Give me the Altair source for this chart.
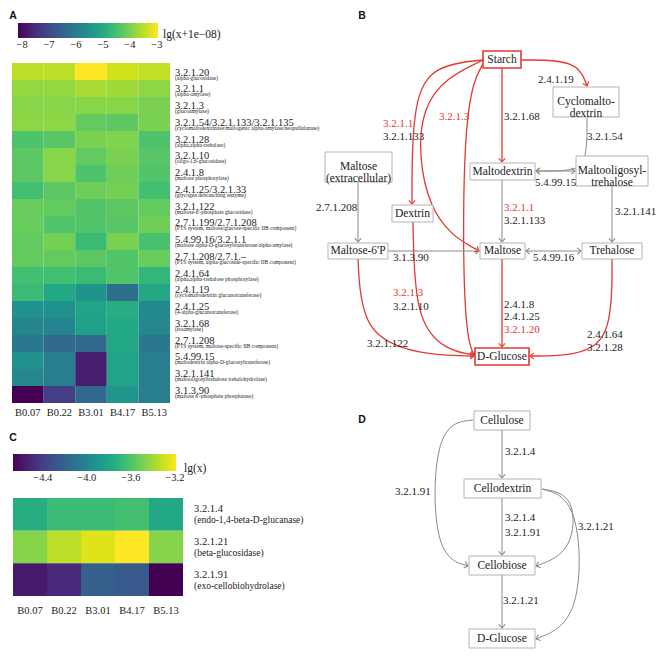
import altair as alt
import pandas as pd
import numpy as np

SERIF = "Liberation Serif, Times New Roman, Times, DejaVu Serif, serif"
SANS = "Liberation Sans, Arial, Helvetica, sans-serif"
RED = "#e5392f"
GRAY = "#8a8a8a"
BOXGRAY = "#b4b4b4"
INK = "#222222"

# ---------------- Panel A : heatmap values (lg(x+1e-08)) ----------------
samples = ["B0.07", "B0.22", "B3.01", "B4.17", "B5.13"]
ec_a = ["3.2.1.20", "3.2.1.1", "3.2.1.3", "3.2.1.54/3.2.1.133/3.2.1.135", "3.2.1.28",
        "3.2.1.10", "2.4.1.8", "2.4.1.25/3.2.1.33", "3.2.1.122", "2.7.1.199/2.7.1.208",
        "5.4.99.16/3.2.1.1", "2.7.1.208/2.7.1.\u2013", "2.4.1.64", "2.4.1.19", "2.4.1.25",
        "3.2.1.68", "2.7.1.208", "5.4.99.15", "3.2.1.141", "3.1.3.90"]
desc_a = ["(alpha-glucosidase)", "(alpha-amylase)", "(glucoamylase)",
          "(cyclomaltodextrinase/maltogenic alpha-amylase/neopullulanase)",
          "(alpha,alpha-trehalase)", "(oligo-1,6-glucosidase)", "(maltose phosphorylase)",
          "(glycogen debranching enzyme)", "(maltose-6'-phosphate glucosidase)",
          "(PTS system, maltose/glucose-specific IIB component)",
          "(maltose alpha-D-glucosyltransferase/alpha-amylase)",
          "(PTS system, alpha-glucoside-specific IIB component)",
          "(alpha,alpha-trehalose phosphorylase)", "(cyclomaltodextrin glucanotransferase)",
          "(4-alpha-glucanotransferase)", "(isoamylase)",
          "(PTS system, maltose-specific IIB component)",
          "(maltodextrin alpha-D-glucosyltransferase)",
          "(maltooligosyltrehalose trehalohydrolase)", "(maltose 6'-phosphate phosphatase)"]
vals_a = [
    [-3.48, -3.48, -2.96, -3.32, -3.45],
    [-3.79, -3.79, -3.63, -3.69, -3.84],
    [-3.89, -3.89, -3.89, -3.89, -4.00],
    [-3.84, -3.84, -4.21, -4.26, -4.00],
    [-4.41, -4.31, -4.00, -3.95, -4.41],
    [-4.26, -3.89, -4.21, -4.00, -4.31],
    [-4.26, -3.89, -4.41, -4.10, -4.36],
    [-4.52, -4.26, -4.10, -4.05, -4.52],
    [-4.15, -4.21, -4.36, -4.26, -4.21],
    [-4.15, -4.36, -4.36, -4.31, -4.10],
    [-4.21, -4.05, -4.62, -4.00, -4.46],
    [-4.21, -4.21, -4.26, -4.36, -4.15],
    [-4.52, -4.52, -4.62, -4.36, -4.72],
    [-4.62, -5.04, -5.50, -6.25, -5.04],
    [-5.55, -5.55, -5.14, -4.93, -5.71],
    [-5.81, -5.81, -5.20, -5.04, -5.76],
    [-6.07, -6.43, -6.43, -5.04, -6.07],
    [-5.55, -5.97, -7.73, -5.14, -5.97],
    [-5.76, -5.97, -7.73, -5.14, -5.97],
    [-8.15, -7.22, -6.43, -5.45, -5.97],
]
ticks_a = [-8, -7, -6, -5, -4, -3]

# ---------------- Panel C : heatmap values (lg(x)) ----------------
ec_c = ["3.2.1.4", "3.2.1.21", "3.2.1.91"]
desc_c = ["(endo-1,4-beta-D-glucanase)", "(beta-glucosidase)", "(exo-cellobiohydrolase)"]
vals_c = [
    [-3.75, -3.66, -3.66, -3.63, -3.78],
    [-3.46, -3.34, -3.26, -3.19, -3.46],
    [-4.57, -4.49, -4.23, -4.26, -4.67],
]
ticks_c = [-4.4, -4.0, -3.6, -3.2]

# ---------------- Panels B & D : pathway diagrams ----------------
node_labels = ["Starch", "Cyclomalto-\ndextrin", "Maltose\n(extracellular)", "Maltodextrin",
               "Maltooligosyl-\ntrehalose", "Dextrin", "Maltose-6'P", "Maltose", "Trehalose",
               "D-Glucose", "Cellulose", "Cellodextrin", "Cellobiose", "D-Glucose"]
node_cx = [502, 586, 358.5, 502.5, 612, 412.5, 358, 502.5, 612, 502, 502, 502.5, 502, 502]
node_cy = [59.5, 102, 167, 171.5, 171, 213.5, 251, 251, 251, 356.5, 420.5, 488.5, 565.5, 638.5]
node_w = [38, 66, 67, 65, 72, 41, 60, 45, 60, 54, 56, 77, 66, 66]
node_h = [17, 30, 30, 17, 30, 17, 16, 16, 16, 17, 19, 19, 19, 19]
node_red = [True, False, False, False, False, False, False, False, False, True,
            False, False, False, False]

# edges: name, red?, control points, double-headed?
edges = [
    ("st_cy", True, [(521, 60), (578, 60), (587, 86)], False),
    ("st_md", True, [(502, 68), (502, 162)], False),
    ("st_dx", True, [(483, 60), (425, 66), (412, 120), (412, 204)], False),
    ("st_mt", True, [(483, 60), (412, 95), (425, 220), (479, 251)], False),
    ("st_dg", True, [(484, 62), (463, 100), (463, 330), (474, 355)], False),
    ("cy_md", False, [(587, 117), (587, 165), (570, 171), (536, 171)], False),
    ("md_mo", False, [(536, 171), (575, 171)], True),
    ("me_m6", False, [(358, 182), (358, 242)], False),
    ("md_mt", False, [(502, 180), (502, 242)], False),
    ("mo_tr", False, [(612, 186), (612, 242)], False),
    ("m6_mt", False, [(388, 251), (479, 251)], False),
    ("mt_tr", False, [(526, 251), (581, 251)], True),
    ("mt_dg", True, [(502, 259), (502, 347)], False),
    ("m6_dg", True, [(358, 259), (362, 335), (420, 355), (474, 356)], False),
    ("dx_dg", True, [(413, 222), (415, 320), (445, 350), (474, 355)], False),
    ("tr_dg", True, [(612, 259), (612, 340), (575, 356), (530, 356)], False),
    ("cl_cd", False, [(502, 430), (502, 478)], False),
    ("cd_cb", False, [(502, 498), (502, 555)], False),
    ("cb_dg", False, [(502, 575), (502, 628)], False),
    ("cl_cb", False, [(473, 420), (434, 425), (433, 555), (468, 566)], False),
    ("cd_cb2", False, [(542, 489), (576, 495), (573, 552), (536, 566)], False),
    ("cd_dg", False, [(542, 489), (580, 500), (582, 620), (536, 639)], False),
]

edge_labels = ["2.4.1.19", "3.2.1.68", "3.2.1.54", "3.2.1.1", "3.2.1.133", "3.2.1.3",
               "5.4.99.15", "2.7.1.208", "3.2.1.1", "3.2.1.133", "3.2.1.141",
               "3.1.3.90", "5.4.99.16", "3.2.1.3", "3.2.1.10",
               "2.4.1.8", "2.4.1.25", "3.2.1.20", "3.2.1.122", "2.4.1.64", "3.2.1.28",
               "3.2.1.4", "3.2.1.91", "3.2.1.4", "3.2.1.91", "3.2.1.21", "3.2.1.21"]
edge_label_x = [538, 504, 587, 383, 383, 439, 535, 316, 504, 504, 615, 393, 533, 393, 393,
                504, 504, 504, 367, 587, 587, 505, 395, 505, 505, 578, 503]
edge_label_y = [80, 117, 137, 124, 137, 117, 183, 208, 208, 221, 212, 258, 258, 293, 307,
                305, 317, 330, 344, 335, 348, 452, 492, 518, 533, 527, 601]
edge_label_red = [False, False, False, True, False, True, False, False, True, False, False,
                  False, False, True, False, False, False, True, False, False, False,
                  False, False, False, False, False, False]

letters = ["A", "B", "C", "D"]
letter_x = [13, 362, 13, 362]
letter_y = [16, 16, 438, 420]

legend_titles = ["lg(x+1e\u221208)", "lg(x)"]
legend_title_x = [163, 184]
legend_title_y = [35, 469]

# ======================= build tables =======================
dfA = pd.DataFrame([{"ec": e, "sample": s, "v": vals_a[i][j]}
                    for i, e in enumerate(ec_a) for j, s in enumerate(samples)])
dfC = pd.DataFrame([{"ec": e, "sample": s, "v": vals_c[i][j]}
                    for i, e in enumerate(ec_c) for j, s in enumerate(samples)])
dfS = pd.DataFrame({"sample": samples})
dfRowA = pd.DataFrame({"ec": ec_a, "desc": desc_a})
dfRowC = pd.DataFrame({"ec": ec_c, "desc": desc_c})

rows = []
arrows = []
for name, red, pts, both in edges:
    col = RED if red else GRAY
    sw = 1.3 if red else 1.0
    for k, (x, y) in enumerate(pts):
        rows.append({"edge": name, "ord": k, "x": x, "y": y, "col": col, "sw": sw})
    ends = [(pts[-2], pts[-1])]
    if both:
        ends.append((pts[1], pts[0]))
    for (x0, y0), (x1, y1) in ends:
        ang = float(np.degrees(np.arctan2(y1 - y0, x1 - x0))) % 360
        arrows.append({"x": x1, "y": y1, "ang": ang, "col": col})
dfE = pd.DataFrame(rows)
dfArr = pd.DataFrame(arrows)

dfN = pd.DataFrame({
    "label": node_labels, "cx": node_cx, "cy": node_cy,
    "x0": [c - w / 2 for c, w in zip(node_cx, node_w)],
    "x1": [c + w / 2 for c, w in zip(node_cx, node_w)],
    "y0": [c - h / 2 for c, h in zip(node_cy, node_h)],
    "y1": [c + h / 2 for c, h in zip(node_cy, node_h)],
    "col": [RED if r else BOXGRAY for r in node_red],
    "sw": [1.6 if r else 1.0 for r in node_red],
})
dfL = pd.DataFrame({"t": edge_labels, "x": edge_label_x, "y": edge_label_y,
                    "col": [RED if r else INK for r in edge_label_red]})
dfLet = pd.DataFrame({"t": letters, "x": letter_x, "y": letter_y})
dfLT = pd.DataFrame({"t": legend_titles, "x": legend_title_x, "y": legend_title_y})

# ======================= charts =======================
W, H = 650, 643


def band(rng):
    return alt.Scale(range=rng, paddingInner=0, paddingOuter=0)


# ---- Panel A heatmap ----
xA = alt.X("sample:N", sort=samples, axis=None, scale=band([4, 162]))
heatA = alt.Chart(dfA).mark_rect(strokeWidth=0).encode(
    x=xA,
    y=alt.Y("ec:N", sort=ec_a, axis=None, scale=band([55, 395])),
    color=alt.Color("v:Q", scale=alt.Scale(scheme="viridis", domain=[-8.15, -2.96]),
                    legend=alt.Legend(orient="none", legendX=10, legendY=15,
                                      direction="horizontal", gradientLength=140,
                                      gradientThickness=15, title=None, values=ticks_a,
                                      format="d", labelFont=SERIF, labelFontSize=10.5,
                                      labelColor=INK, labelOffset=2, padding=0,
                                      gradientStrokeWidth=0)),
)
colA = alt.Chart(dfS).mark_text(font=SERIF, fontSize=10.5, color=INK, baseline="middle").encode(
    x=xA, y=alt.value(405), text="sample:N")
layerA = alt.layer(heatA, colA)

yRowA = alt.Y("ec:N", sort=ec_a, axis=None,
              scale=alt.Scale(type="point", range=[64.5, 383], padding=0))
ecA = alt.Chart(dfRowA).mark_text(font=SERIF, fontSize=10.5, color=INK, align="left",
                                  baseline="middle").encode(
    x=alt.value(167), y=yRowA, text="ec:N")
dsA = alt.Chart(dfRowA).mark_text(font=SERIF, fontSize=5.5, color=INK, align="left",
                                  baseline="middle", dy=5).encode(
    x=alt.value(167), y=yRowA, text="desc:N")
rowsA = alt.layer(ecA, dsA)

# ---- Panel C heatmap ----
xC = alt.X("sample:N", sort=samples, axis=None, scale=band([5, 175]))
yC = alt.Y("ec:N", sort=ec_c, axis=None, scale=band([490, 588]))
heatC = alt.Chart(dfC).mark_rect(strokeWidth=0).encode(
    x=xC, y=yC,
    color=alt.Color("v:Q", scale=alt.Scale(scheme="viridis", domain=[-4.67, -3.19]),
                    legend=alt.Legend(orient="none", legendX=5, legendY=446,
                                      direction="horizontal", gradientLength=163,
                                      gradientThickness=17, title=None, values=ticks_c,
                                      format=".1f", labelFont=SERIF, labelFontSize=10.5,
                                      labelColor=INK, labelOffset=2, padding=0,
                                      gradientStrokeWidth=0)),
)
colC = alt.Chart(dfS).mark_text(font=SERIF, fontSize=10.5, color=INK, baseline="middle").encode(
    x=xC, y=alt.value(603), text="sample:N")
ecC = alt.Chart(dfRowC).mark_text(font=SERIF, fontSize=10.5, color=INK, align="left",
                                  baseline="middle", dy=-5).encode(
    x=alt.value(186), y=yC, text="ec:N")
dsC = alt.Chart(dfRowC).mark_text(font=SERIF, fontSize=9.5, color=INK, align="left",
                                  baseline="middle", dy=6).encode(
    x=alt.value(186), y=yC, text="desc:N")
layerC = alt.layer(heatC, colC, ecC, dsC)

# ---- Diagrams B and D (reference page coordinates) ----
xs = alt.Scale(domain=[8, 8 + W], range=[0, W], nice=False, zero=False)
ys = alt.Scale(domain=[8, 8 + H], range=[0, H], nice=False, zero=False)

lines = alt.Chart(dfE).mark_line(interpolate="basis").encode(
    x=alt.X("x:Q", scale=xs, axis=None), y=alt.Y("y:Q", scale=ys, axis=None),
    detail="edge:N", order="ord:Q",
    color=alt.Color("col:N", scale=None), strokeWidth=alt.StrokeWidth("sw:Q", scale=None))
heads = alt.Chart(dfArr).mark_point(shape="M-1,-0.85L0,0L-1,0.85", filled=False, size=55,
                                    strokeWidth=1.1, opacity=1).encode(
    x=alt.X("x:Q", scale=xs, axis=None), y=alt.Y("y:Q", scale=ys, axis=None),
    angle=alt.Angle("ang:Q", scale=None), color=alt.Color("col:N", scale=None))
boxes = alt.Chart(dfN).mark_rect(fill="white").encode(
    x=alt.X("x0:Q", scale=xs, axis=None), x2="x1:Q",
    y=alt.Y("y0:Q", scale=ys, axis=None), y2="y1:Q",
    stroke=alt.Stroke("col:N", scale=None), strokeWidth=alt.StrokeWidth("sw:Q", scale=None))
ntext = alt.Chart(dfN).mark_text(font=SERIF, fontSize=11.5, color=INK, lineBreak="\n",
                                 lineHeight=12, baseline="middle").encode(
    x=alt.X("cx:Q", scale=xs, axis=None), y=alt.Y("cy:Q", scale=ys, axis=None), text="label:N")
etext = alt.Chart(dfL).mark_text(font=SERIF, fontSize=11, align="left", baseline="middle").encode(
    x=alt.X("x:Q", scale=xs, axis=None), y=alt.Y("y:Q", scale=ys, axis=None), text="t:N",
    color=alt.Color("col:N", scale=None))
ltext = alt.Chart(dfLet).mark_text(font=SANS, fontSize=10.5, fontWeight="bold", color="#111",
                                   baseline="middle").encode(
    x=alt.X("x:Q", scale=xs, axis=None), y=alt.Y("y:Q", scale=ys, axis=None), text="t:N")
lttext = alt.Chart(dfLT).mark_text(font=SERIF, fontSize=11.5, color=INK, align="left",
                                   baseline="middle").encode(
    x=alt.X("x:Q", scale=xs, axis=None), y=alt.Y("y:Q", scale=ys, axis=None), text="t:N")
diagram = alt.layer(lines, heads, boxes, ntext, etext, ltext, lttext)

chart = alt.layer(layerA, rowsA, layerC, diagram).resolve_scale(
    x="independent", y="independent", color="independent"
).properties(
    width=W, height=H, padding=0, background="white",
    autosize=alt.AutoSizeParams(type="none"),
).configure_view(stroke=None)

chart.save("out.html", embed_options={"renderer": "svg", "actions": False})
